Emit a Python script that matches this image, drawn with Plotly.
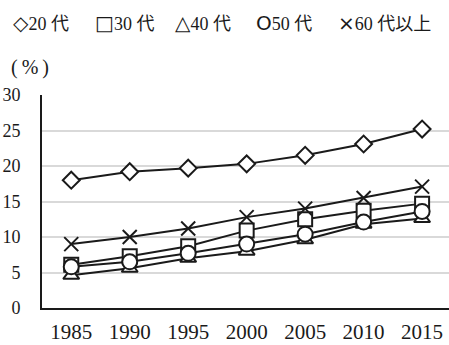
import plotly.graph_objects as go

years = ["1985", "1990", "1995", "2000", "2005", "2010", "2015"]
age20 = [18.0, 19.2, 19.7, 20.3, 21.5, 23.1, 25.2]
age30 = [6.1, 7.3, 8.7, 10.9, 12.5, 13.7, 14.7]
age40 = [4.6, 5.6, 7.0, 8.0, 9.6, 11.8, 12.6]
age50 = [5.8, 6.5, 7.7, 9.0, 10.4, 12.1, 13.6]
age60 = [9.0, 10.0, 11.2, 12.8, 14.0, 15.5, 17.1]

legend_symbols = ["◇", "□", "△", "O", "×"]
legend_labels = ["20 代", "30 代", "40 代", "50 代", "60 代以上"]
legend_px = [11, 93, 173, 254, 336]

W, H = 449, 345
L, R, T, B = 42, 0, 95, 37
plot_w = W - L - R
plot_h = H - T - B

serif = "Liberation Serif, Noto Sans CJK JP, serif"
ink = "#1a1a1a"

# series drawn as (values, marker symbol, marker size), in stacking order for markers
series = [
    (age20, "diamond", 13),
    (age40, "triangle-up", 14),
    (age30, "square", 14),
    (age50, "circle", 15),
    (age60, "x-thin", 14),
]

fig = go.Figure()

# connecting lines first so the white markers sit on top of every line
for vals, sym, size in series:
    fig.add_trace(go.Scatter(
        x=years, y=vals, mode="lines",
        line=dict(color=ink, width=2),
        hoverinfo="skip", showlegend=False,
    ))

for vals, sym, size in series:
    fig.add_trace(go.Scatter(
        x=years, y=vals, mode="markers",
        marker=dict(symbol=sym, size=size, color="white",
                    line=dict(color=ink, width=2)),
        showlegend=False,
    ))

annotations = []
for sym, lab, px in zip(legend_symbols, legend_labels, legend_px):
    txt = (f'<span style="font-family:DejaVu Sans;font-size:20px">{sym}</span>'
           f'{lab}')
    annotations.append(dict(
        text=txt, x=(px - L) / plot_w, y=(H - B - 23) / plot_h,
        xref="paper", yref="paper", xanchor="left", yanchor="middle",
        showarrow=False, font=dict(family=serif, size=18, color=ink),
    ))
annotations.append(dict(
    text="(\u2009%\u2009)", x=(9 - L) / plot_w, y=(H - B - 68) / plot_h,
    xref="paper", yref="paper", xanchor="left", yanchor="middle",
    showarrow=False, font=dict(family=serif, size=20, color=ink),
))

fig.update_layout(
    width=W, height=H,
    margin=dict(l=L, r=R, t=T, b=B, autoexpand=False),
    paper_bgcolor="white", plot_bgcolor="white",
    annotations=annotations,
    xaxis=dict(
        type="category", range=[-0.5, 6.46],
        showgrid=False, zeroline=False,
        showline=True, linecolor=ink, linewidth=2,
        ticks="", ticklabelstandoff=4,
        tickfont=dict(family=serif, size=21, color=ink),
    ),
    yaxis=dict(
        range=[0, 30], tickvals=[0, 5, 10, 15, 20, 25, 30],
        showgrid=True, gridcolor="#d9d9d9", gridwidth=1.5,
        zeroline=False,
        showline=True, linecolor=ink, linewidth=2,
        ticks="", ticklabelstandoff=16,
        tickfont=dict(family=serif, size=18, color=ink),
    ),
)

fig.write_html("out.html")
